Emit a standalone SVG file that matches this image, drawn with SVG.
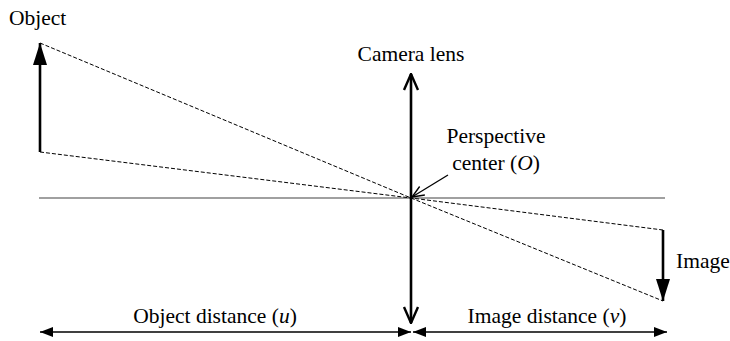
<svg xmlns="http://www.w3.org/2000/svg" width="730" height="341" viewBox="0 0 730 341">
<style>
text{font-family:"Liberation Serif","Times New Roman",serif;font-size:21.5px;fill:#000}
.ray{stroke:#000;stroke-width:1;stroke-dasharray:4,2;fill:none}
.axis{stroke:#808080;stroke-width:1.6}
.thick{stroke:#000;stroke-width:2.6;fill:none}
.dim{stroke:#000;stroke-width:1.3;fill:none}
</style>
<defs>
<marker id="fill" markerUnits="userSpaceOnUse" markerWidth="22" markerHeight="14" viewBox="0 0 22 14" refX="22" refY="7" orient="auto">
<path d="M0,0 L22,7 L0,14 Z" fill="#000"/>
</marker>
<marker id="open" markerUnits="userSpaceOnUse" markerWidth="18" markerHeight="18" viewBox="0 0 18 18" refX="17" refY="9" orient="auto">
<path d="M1,2 L17,9 L1,16" fill="none" stroke="#000" stroke-width="2.4"/>
</marker>
<marker id="thin" markerUnits="userSpaceOnUse" markerWidth="14" markerHeight="14" viewBox="0 0 14 14" refX="13" refY="7" orient="auto">
<path d="M1,2 L13,7 L1,12" fill="none" stroke="#000" stroke-width="1.4"/>
</marker>
<marker id="dimh" markerUnits="userSpaceOnUse" markerWidth="13" markerHeight="10" viewBox="0 0 13 10" refX="13" refY="5" orient="auto-start-reverse">
<path d="M0,0 L13,5 L0,10 Z" fill="#000"/>
</marker>
</defs>
<g id="connectors">
<line class="axis" x1="39" y1="198" x2="665" y2="198"/>
<polyline class="ray" points="40,43 411,198 663,301"/>
<polyline class="ray" points="40,152 411,198 663,230"/>
<line class="dim" x1="448" y1="175" x2="412" y2="197" marker-end="url(#thin)"/>
<line class="dim" x1="40" y1="332" x2="411" y2="332" marker-start="url(#dimh)" marker-end="url(#dimh)"/>
<line class="dim" x1="413" y1="332" x2="667" y2="332" marker-start="url(#dimh)" marker-end="url(#dimh)"/>
</g>
<g id="object">
<line class="thick" x1="40" y1="152" x2="40" y2="43" marker-end="url(#fill)"/>
<text x="9" y="25">Object</text>
</g>
<g id="lens">
<line class="thick" x1="411" y1="198" x2="411" y2="74" marker-end="url(#open)"/>
<line class="thick" x1="411" y1="198" x2="411" y2="323" marker-end="url(#open)"/>
<text x="411" y="61" text-anchor="middle">Camera lens</text>
</g>
<g id="center">
<text x="496" y="143" text-anchor="middle">Perspective</text>
<text x="496" y="170" text-anchor="middle">center (<tspan font-style="italic">O</tspan>)</text>
</g>
<g id="image">
<line class="thick" x1="663" y1="230" x2="663" y2="301" marker-end="url(#fill)"/>
<text x="676" y="268">Image</text>
</g>
<g id="labels">
<text x="215" y="323" text-anchor="middle">Object distance (<tspan font-style="italic">u</tspan>)</text>
<text x="547" y="323" text-anchor="middle">Image distance (<tspan font-style="italic">v</tspan>)</text>
</g>
</svg>
